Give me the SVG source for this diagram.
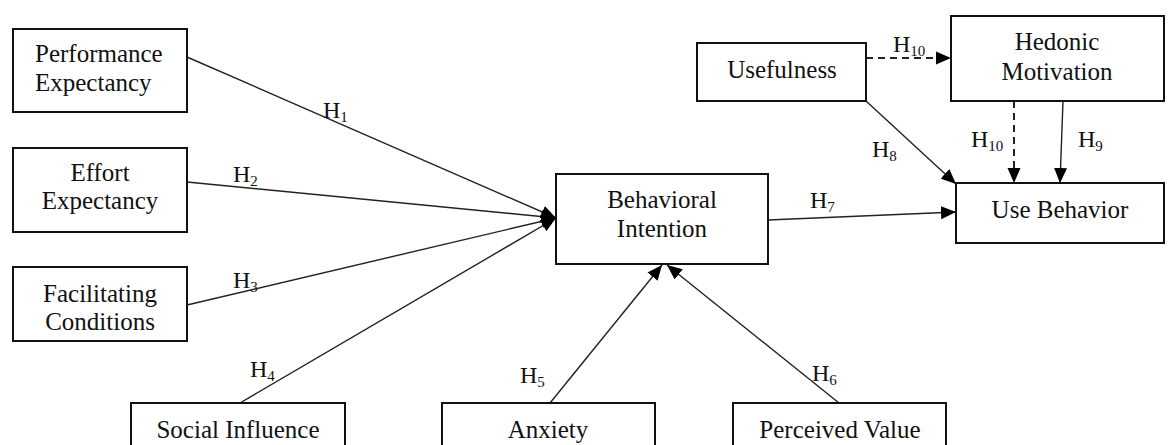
<svg xmlns="http://www.w3.org/2000/svg" width="1170" height="445" viewBox="0 0 1170 445">
<style>
.box{fill:#fff;stroke:#111;stroke-width:2}
.t{font-family:'Liberation Serif','DejaVu Serif','Times New Roman',Times,serif;font-size:25px;fill:#111;text-anchor:middle}
.lab{font-family:'Liberation Serif','DejaVu Serif','Times New Roman',Times,serif;font-size:24px;fill:#111}
.sub{font-size:15px}
.ln{stroke:#222;stroke-width:1.4;fill:none}
.dash{stroke:#222;stroke-width:2;fill:none;stroke-dasharray:7 5}
</style>
<defs>
<marker id="ah" markerUnits="userSpaceOnUse" markerWidth="16" markerHeight="14" refX="15" refY="6.5" orient="auto" viewBox="0 0 16 13">
<path d="M0,0 L15,6.5 L0,13 z" fill="#000"/>
</marker>
</defs>
<rect width="1170" height="445" fill="#fff"/>
<g id="connectors" font-family="Liberation Serif, DejaVu Serif, serif">
<line class="ln" x1="187" y1="57" x2="556" y2="218" marker-end="url(#ah)"/>
<line class="ln" x1="187" y1="182" x2="556" y2="218" marker-end="url(#ah)"/>
<line class="ln" x1="187" y1="305" x2="556" y2="218" marker-end="url(#ah)"/>
<line class="ln" x1="240" y1="403" x2="556" y2="218" marker-end="url(#ah)"/>
<line class="ln" x1="550" y1="403" x2="662" y2="265" marker-end="url(#ah)"/>
<line class="ln" x1="839" y1="403" x2="667" y2="265" marker-end="url(#ah)"/>
<line class="ln" x1="768" y1="220" x2="956" y2="212" marker-end="url(#ah)"/>
<line class="ln" x1="866" y1="101" x2="956" y2="184" marker-end="url(#ah)"/>
<line class="dash" x1="866" y1="58" x2="951" y2="58" marker-end="url(#ah)"/>
<line class="dash" x1="1014" y1="101" x2="1014" y2="183" marker-end="url(#ah)"/>
<line class="ln" x1="1063" y1="101" x2="1060" y2="183" marker-end="url(#ah)"/>
<text class="lab" x="323" y="118">H<tspan class="sub" dy="4">1</tspan></text>
<text class="lab" x="233" y="182">H<tspan class="sub" dy="4">2</tspan></text>
<text class="lab" x="233" y="288">H<tspan class="sub" dy="4">3</tspan></text>
<text class="lab" x="250" y="377">H<tspan class="sub" dy="4">4</tspan></text>
<text class="lab" x="520" y="383">H<tspan class="sub" dy="4">5</tspan></text>
<text class="lab" x="812" y="381">H<tspan class="sub" dy="4">6</tspan></text>
<text class="lab" x="810" y="208">H<tspan class="sub" dy="4">7</tspan></text>
<text class="lab" x="872" y="157">H<tspan class="sub" dy="4">8</tspan></text>
<text class="lab" x="893" y="52">H<tspan class="sub" dy="4">10</tspan></text>
<text class="lab" x="971" y="147">H<tspan class="sub" dy="4">10</tspan></text>
<text class="lab" x="1078" y="147">H<tspan class="sub" dy="4">9</tspan></text>
</g>
<g id="performance-expectancy">
<rect class="box" x="13" y="29" width="174" height="83"/>
<text class="t" x="35" y="62" style="text-anchor:start">Performance</text>
<text class="t" x="35" y="91" style="text-anchor:start">Expectancy</text>
</g>
<g id="effort-expectancy">
<rect class="box" x="13" y="148" width="174" height="84"/>
<text class="t" x="100" y="181">Effort</text>
<text class="t" x="100" y="209">Expectancy</text>
</g>
<g id="facilitating-conditions">
<rect class="box" x="13" y="267" width="174" height="74"/>
<text class="t" x="100" y="302">Facilitating</text>
<text class="t" x="100" y="330">Conditions</text>
</g>
<g id="social-influence">
<rect class="box" x="131" y="403" width="214" height="60"/>
<text class="t" x="238" y="438">Social Influence</text>
</g>
<g id="anxiety">
<rect class="box" x="442" y="403" width="213" height="60"/>
<text class="t" x="548" y="438">Anxiety</text>
</g>
<g id="perceived-value">
<rect class="box" x="733" y="403" width="213" height="60"/>
<text class="t" x="840" y="438">Perceived Value</text>
</g>
<g id="behavioral-intention">
<rect class="box" x="556" y="174" width="212" height="90"/>
<text class="t" x="662" y="208">Behavioral</text>
<text class="t" x="662" y="237">Intention</text>
</g>
<g id="usefulness">
<rect class="box" x="697" y="43" width="169" height="58"/>
<text class="t" x="782" y="78">Usefulness</text>
</g>
<g id="hedonic-motivation">
<rect class="box" x="951" y="16" width="213" height="85"/>
<text class="t" x="1057" y="50">Hedonic</text>
<text class="t" x="1057" y="80">Motivation</text>
</g>
<g id="use-behavior">
<rect class="box" x="956" y="183" width="208" height="60"/>
<text class="t" x="1060" y="218">Use Behavior</text>
</g>
</svg>
